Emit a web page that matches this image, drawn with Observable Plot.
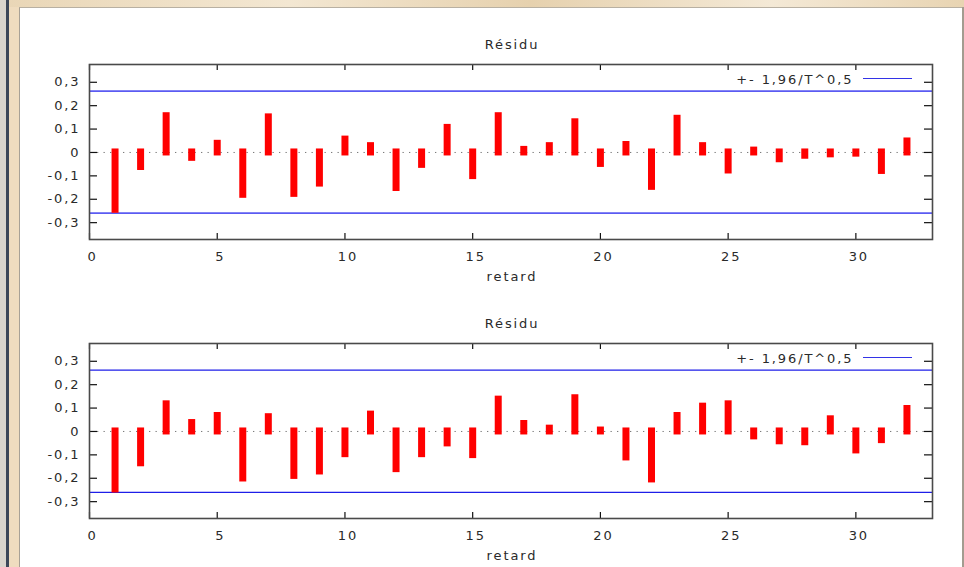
<!DOCTYPE html>
<html>
<head>
<meta charset="utf-8">
<script src="https://cdn.jsdelivr.net/npm/d3@7"></script>
<script src="https://cdn.jsdelivr.net/npm/@observablehq/plot@0.6"></script>
<style>
  html, body { margin: 0; padding: 0; background: #ffffff; }
  #win { position: relative; width: 964px; height: 567px; overflow: hidden; background: #ede0c8; }
  #topstrip { position: absolute; left: 0; top: 0; width: 964px; height: 7px;
    background: linear-gradient(90deg, #e9d6b6 0%, #f3e7d2 30%, #e6d1ae 55%, #f4e9d6 80%, #e8d4b2 100%); }
  #leftdark { position: absolute; left: 0; top: 0; width: 6px; height: 567px; background: #d9d4cc; }
  #leftdark2 { position: absolute; left: 6px; top: 0; width: 3px; height: 567px; background: #3c4658; }
  #leftbeige { position: absolute; left: 9px; top: 7px; width: 10px; height: 560px; background: #efdcbf; }
  #panel { position: absolute; left: 19px; top: 7px; width: 943px; height: 560px; background: #ffffff;
    border-left: 1px solid #a8a196; border-top: 1px solid #b8b0a2; box-sizing: border-box; }
  #rightb { position: absolute; left: 962px; top: 7px; width: 2px; height: 560px; background: #a39c90; }
  .plotbox { position: absolute; left: 20px; }
</style>
</head>
<body>
<div id="win">
  <div id="topstrip"></div>
  <div id="leftdark"></div>
  <div id="leftdark2"></div>
  <div id="leftbeige"></div>
  <div id="panel"></div>
  <div id="rightb"></div>
  <div id="p1" class="plotbox" style="top:8px"></div>
  <div id="p2" class="plotbox" style="top:283px"></div>
</div>
<script>
// ---- data ----
const lags = [1,2,3,4,5,6,7,8,9,10,11,12,13,14,15,16,17,18,19,20,21,22,23,24,25,26,27,28,29,30,31,32];
const residTop = [-0.245,-0.062,0.155,-0.023,0.037,-0.181,0.150,-0.177,-0.133,0.055,0.027,-0.152,-0.053,0.105,-0.101,0.155,0.011,0.027,0.129,-0.049,0.032,-0.147,0.144,0.027,-0.077,0.008,-0.029,-0.014,-0.008,-0.005,-0.079,0.047];
const residBottom = [-0.248,-0.136,0.116,0.036,0.066,-0.201,0.061,-0.190,-0.171,-0.097,0.072,-0.161,-0.097,-0.051,-0.101,0.136,0.032,0.012,0.142,0.004,-0.111,-0.205,0.066,0.106,0.116,-0.021,-0.042,-0.046,0.052,-0.081,-0.037,0.096];
const bandTop = [0.262, -0.259];
const bandBottom = [0.262, -0.260];
const xTicks = [0, 5, 10, 15, 20, 25, 30];
const yTicks = [-0.3, -0.2, -0.1, 0, 0.1, 0.2, 0.3];
const titleText = "Résidu";
const xLabelText = "retard";
const legendText = "+- 1,96/T^0,5";

const fmt = d => (Math.abs(d) < 1e-9 ? "0" : d.toFixed(1).replace(".", ","));

function panel(resid, band, opts) {
  const W = 942, H = opts.height;
  const mL = 69, mR = 30, mT = opts.mt, mB = opts.mb;
  const fw = W - mL - mR, fh = H - mT - mB;
  const rows = lags.map((lag, i) => ({lag, value: resid[i]}));
  const txt = "#2a2a2a";
  const svg = Plot.plot({
    width: W, height: H,
    marginLeft: mL, marginRight: mR, marginTop: mT, marginBottom: mB,
    style: {fontFamily: "'DejaVu Sans', sans-serif", fontSize: "13px", letterSpacing: "1.9px", background: "transparent", color: txt},
    x: {domain: [0, 33], label: null},
    y: {domain: [-0.372, 0.376], label: null},
    marks: [
      Plot.ruleY([0], {stroke: "#777", strokeWidth: 1, strokeDasharray: "1.3,5.2", insetLeft: 8}),
      Plot.ruleY(band, {stroke: opts.bandColor, strokeWidth: opts.bandWidth}),
      Plot.ruleX(rows, {x: "lag", y1: 0, y2: "value", stroke: "#ff0000", strokeWidth: 7, strokeLinecap: "square"}),
      // inward ticks
      Plot.ruleX(xTicks, {stroke: "#111", strokeWidth: 1.2, insetBottom: fh - 6}),
      Plot.ruleX(xTicks, {stroke: "#111", strokeWidth: 1.2, insetTop: fh - 6}),
      Plot.ruleY(yTicks, {stroke: "#111", strokeWidth: 1.2, insetRight: fw - 8}),
      Plot.ruleY(yTicks, {stroke: "#111", strokeWidth: 1.2, insetLeft: fw - 8}),
      Plot.axisX({ticks: xTicks, tickFormat: d => String(d), tickSize: 0, tickPadding: 12, dx: 3, fill: txt, label: null}),
      Plot.axisY({ticks: yTicks, tickFormat: fmt, tickSize: 0, tickPadding: 9, fill: txt, label: null}),
      Plot.text([titleText], {text: d => d, frameAnchor: "top", lineAnchor: "middle", dy: -20, dx: 1, fill: txt}),
      Plot.text([xLabelText], {text: d => d, frameAnchor: "bottom", lineAnchor: "middle", dy: 37, dx: 1, fill: txt}),
      Plot.text([legendText], {text: d => d, frameAnchor: "top-right", textAnchor: "end", lineAnchor: "middle", dx: -79, dy: 15, fill: txt}),
      Plot.frame({stroke: "#4a4a4a", strokeWidth: 1.6})
    ]
  });
  // legend sample line
  d3.select(svg).append("line")
    .attr("x1", W - mR - 69).attr("x2", W - mR - 20)
    .attr("y1", mT + 14.5).attr("y2", mT + 14.5)
    .attr("stroke", opts.legendColor).attr("stroke-width", 1.2);
  return svg;
}

document.getElementById("p1").appendChild(
  panel(residTop, bandTop, {height: 275, mt: 56, mb: 44, bandColor: "#5b5bf2", bandWidth: 1.7, legendColor: "#3333e6"}));
document.getElementById("p2").appendChild(
  panel(residBottom, bandBottom, {height: 284, mt: 60, mb: 49, bandColor: "#1e1ee8", bandWidth: 1.3, legendColor: "#3333e6"}));
</script>
</body>
</html>
